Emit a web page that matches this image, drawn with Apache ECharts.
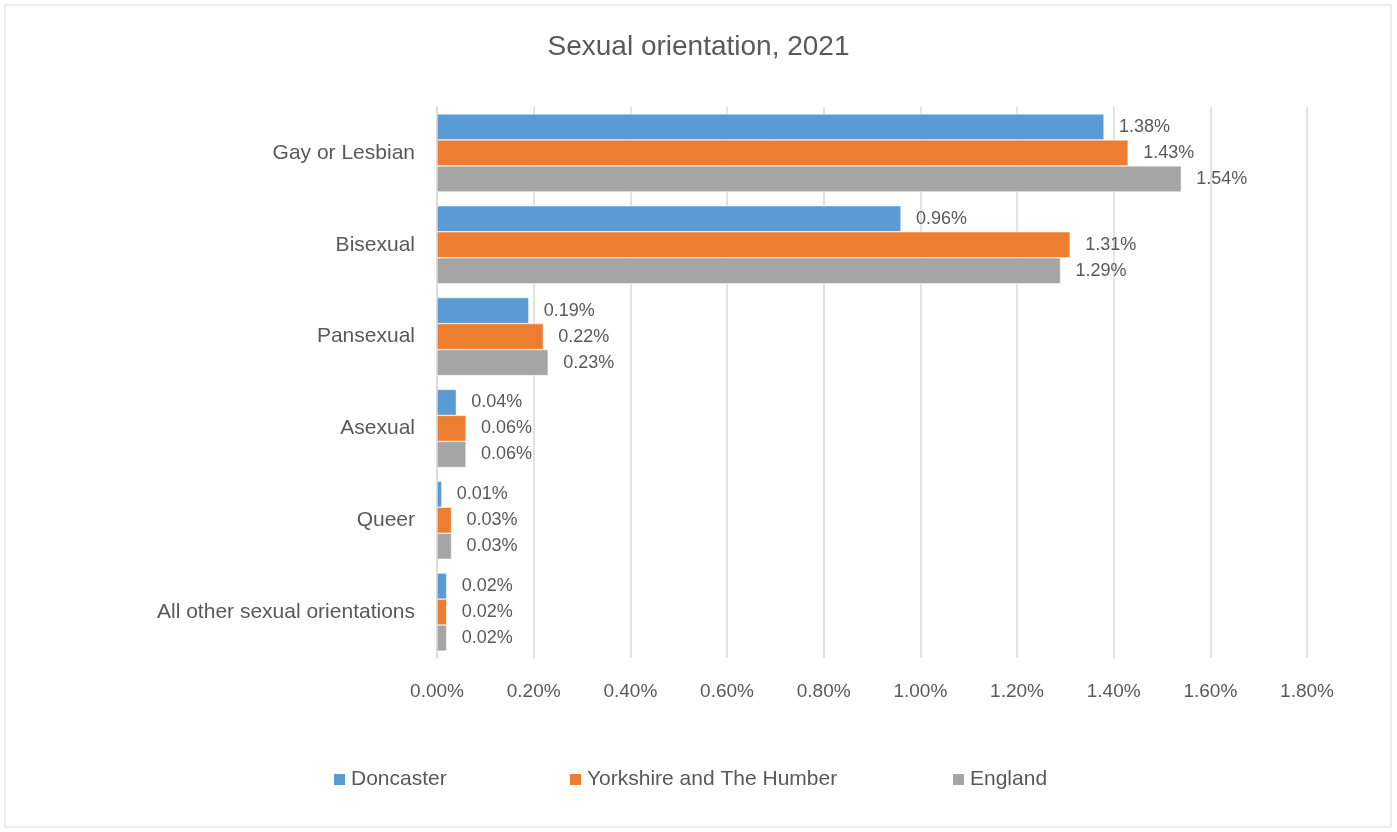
<!DOCTYPE html>
<html><head><meta charset="utf-8">
<script src="https://cdn.jsdelivr.net/npm/echarts@6/dist/echarts.min.js"></script>
<style>html,body{margin:0;padding:0;background:#fff}#c{width:1397px;height:832px}</style>
</head><body><div id="c"></div>
<script>
const categories = ["Gay or Lesbian","Bisexual","Pansexual","Asexual","Queer","All other sexual orientations"];
const doncaster = [1.38,0.96,0.19,0.04,0.01,0.02];
const yorkshire = [1.43,1.31,0.22,0.06,0.03,0.02];
const england = [1.54,1.29,0.23,0.06,0.03,0.02];
const seriesNames = ["Doncaster","Yorkshire and The Humber","England"];
const colors = ["#5B9BD5","#ED7D31","#A5A5A5"];
const FONT = "'Liberation Sans', sans-serif";
const txt = "#595959";

const chart = echarts.init(document.getElementById('c'));
function mk(name, data, color){
  return {name, type:'bar', data, barWidth:26, barGap:'0%',
    itemStyle:{color, borderColor:'#fff', borderWidth:0.5},
    label:{show:true, position:'right', distance:15, color:txt, fontSize:18, fontFamily:FONT,
      formatter:p=>p.value.toFixed(2)+'%'}};
}
const legendPos = [332, 568, 951];
chart.setOption({
  animation:false,
  graphic:[{type:'rect', shape:{x:5,y:5,width:1386,height:822}, style:{fill:'none', stroke:'#D9D9D9', lineWidth:1}}],
  title:{text:'Sexual orientation, 2021', left:'center', top:28,
    textStyle:{color:txt, fontSize:28, fontWeight:'normal', fontFamily:FONT}},
  legend: seriesNames.map((n,i)=>({data:[n], left:legendPos[i], top:769, padding:0, itemWidth:13, itemHeight:13, icon:'rect',
    itemGap:7, textStyle:{color:txt, fontSize:21, fontFamily:FONT}})),
  grid:{left:437, right:90, top:107, bottom:174, containLabel:false},
  xAxis:{type:'value', min:0, max:1.8, interval:0.2,
    axisLabel:{color:txt, fontSize:19, fontFamily:FONT, margin:24, formatter:v=>v.toFixed(2)+'%'},
    splitLine:{lineStyle:{color:'#D9D9D9', width:1.5}},
    axisLine:{show:false}, axisTick:{show:false}},
  yAxis:{type:'category', data:categories, inverse:true,
    axisLabel:{color:txt, fontSize:21, fontFamily:FONT, margin:22},
    axisLine:{show:true, lineStyle:{color:'#D9D9D9', width:1.5}}, axisTick:{show:false}},
  series:[mk(seriesNames[0],doncaster,colors[0]), mk(seriesNames[1],yorkshire,colors[1]), mk(seriesNames[2],england,colors[2])]
});
</script></body></html>
